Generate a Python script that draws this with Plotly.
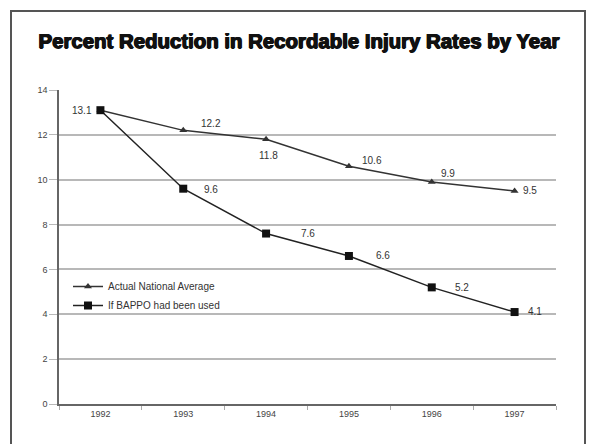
import plotly.graph_objects as go

years = ["1992", "1993", "1994", "1995", "1996", "1997"]
national = [13.1, 12.2, 11.8, 10.6, 9.9, 9.5]
bappo = [13.1, 9.6, 7.6, 6.6, 5.2, 4.1]
national_name = "Actual National Average"
bappo_name = "If BAPPO had been used"
title = "Percent Reduction in Recordable Injury Rates by Year"

# label offsets in pixels (style only)
nat_shift = [(-18, 0), (28, 7), (2, -16), (23, 6), (16, 8), (15, 0)]
bap_shift = [None, (28, -1), (42, 0), (34, 0), (30, 0), (20, 1)]

W, H = 589, 444
L, R, T, B = 59, 556, 90, 404

fig = go.Figure()
fig.add_trace(go.Scatter(
    x=years, y=national, name=national_name, mode="lines+markers",
    line=dict(color="#333333", width=1.5),
    marker=dict(symbol="triangle-up", size=7, color="#333333"),
))
fig.add_trace(go.Scatter(
    x=years, y=bappo, name=bappo_name, mode="lines+markers",
    line=dict(color="#222222", width=1.5),
    marker=dict(symbol="square", size=8, color="#111111"),
))

lab_font = dict(size=10, color="#333333", family="Liberation Sans, Arial, sans-serif")
for ys, shifts in ((national, nat_shift), (bappo, bap_shift)):
    for i, (yv, s) in enumerate(zip(ys, shifts)):
        if s is None:
            continue
        fig.add_annotation(x=i, y=yv, xref="x", yref="y", text=f"{yv:.1f}",
                           showarrow=False, xanchor="center", yanchor="middle",
                           xshift=s[0], yshift=s[1], font=lab_font)

def px_x(p):
    return (p - L) / (R - L)

def px_y(p):
    return (B - p) / (B - T)

fig.add_shape(type="rect", xref="paper", yref="paper",
              x0=px_x(11), x1=px_x(585), y0=px_y(470), y1=px_y(11),
              line=dict(color="#555555", width=2), fillcolor="rgba(0,0,0,0)", layer="below")

fig.update_layout(
    width=W, height=H,
    margin=dict(l=L, r=W - R, t=T, b=H - B, autoexpand=False),
    paper_bgcolor="white", plot_bgcolor="white",
    font=dict(family="Liberation Sans, Arial, sans-serif", size=9, color="#444444"),
    title=dict(text="<b>" + title + "</b>", x=299 / W, xanchor="center",
               y=1 - 41 / H, yanchor="middle",
               font=dict(family="Liberation Sans, Arial, sans-serif",
                         size=20.4, color="#111111",
                         shadow="0.7px 0 0 #111111, -0.7px 0 0 #111111, 0 0.5px 0 #111111")),
    showlegend=True,
    legend=dict(x=px_x(68), y=px_y(272), xanchor="left", yanchor="top",
                bgcolor="rgba(0,0,0,0)", borderwidth=0,
                font=dict(size=10, color="#333333"), tracegroupgap=2, itemwidth=30),
    xaxis=dict(type="category", showgrid=False, showline=True, linecolor="#666666", linewidth=1.5,
               ticks="outside", tickcolor="#aaaaaa", ticklen=4, tickson="boundaries",
               tickfont=dict(size=9, color="#444444"), range=[-0.5, 5.5], zeroline=False),
    yaxis=dict(range=[0, 14], dtick=2, showgrid=True, gridcolor="#b8b8b8", gridwidth=2,
               showline=True, linecolor="#666666", linewidth=1.5,
               ticks="outside", tickcolor="#b8b8b8", ticklen=8,
               tickfont=dict(size=9, color="#444444"), zeroline=False),
)

fig.write_html("out.html")
